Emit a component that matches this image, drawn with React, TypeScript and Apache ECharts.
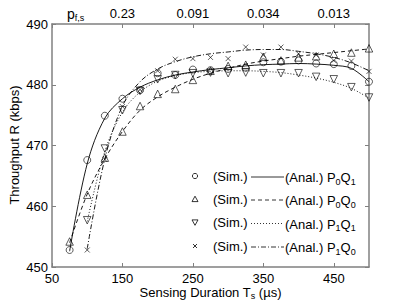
import React, { useEffect, useRef } from "react";
import * as echarts from "echarts";

// Sensing duration (µs)
const durations = [75, 100, 125, 150, 175, 200, 225, 250, 275, 300, 325, 350, 375, 400, 425, 450, 475, 500];
const durationsP1 = [100, 125, 150, 175, 200, 225, 250, 275, 300, 325, 350, 375, 400, 425, 450, 475, 500];

// Simulation points (kbps)
const simP0Q1 = [452.8, 467.6, 474.9, 477.7, 479.1, 481.9, 481.6, 482.5, 482.4, 482.6, 482.8, 483.7, 483.8, 484.0, 483.5, 483.4, 483.1, 480.5];
const simP0Q0 = [454.2, 461.9, 468.0, 472.3, 476.5, 478.5, 479.3, 480.8, 482.3, 483.1, 483.3, 484.6, 484.0, 484.5, 484.7, 485.1, 485.3, 486.0];
const simP1Q1 = [457.7, 469.5, 475.8, 479.0, 480.9, 481.6, 481.9, 482.0, 481.9, 482.0, 481.9, 481.9, 481.9, 481.3, 480.9, 479.6, 477.9];
const simP1Q0 = [452.8, 467.7, 476.4, 479.2, 482.3, 484.2, 484.3, 484.5, 484.3, 486.2, 484.9, 486.2, 485.1, 484.9, 484.0, 483.9, 482.2];

// Analytical curves (kbps)
const anaP0Q1 = [452.6, 467.0, 474.5, 477.7, 479.6, 480.8, 481.6, 482.1, 482.5, 482.8, 483.1, 483.3, 483.4, 483.5, 483.4, 483.2, 482.7, 480.5];
const anaP0Q0 = [454.0, 462.0, 467.8, 472.3, 475.8, 478.0, 479.6, 480.9, 481.9, 482.7, 483.4, 483.9, 484.3, 484.7, 485.0, 485.3, 485.6, 485.9];
const anaP1Q1 = [457.5, 469.0, 475.5, 478.8, 480.6, 481.5, 482.0, 482.2, 482.3, 482.3, 482.2, 482.0, 481.6, 481.1, 480.4, 479.4, 477.8];
const anaP1Q0 = [453.0, 467.8, 476.5, 480.5, 482.6, 483.8, 484.6, 485.1, 485.4, 485.7, 485.8, 485.8, 485.5, 485.1, 484.5, 483.6, 482.3];

// Top axis: false-alarm probability
const topTickValues = [150, 250, 350, 450];
const topTickLabels = ["0.23", "0.091", "0.034", "0.013"];

// Legend
const legendNames = ["P{sub|0}Q{sub|1}", "P{sub|0}Q{sub|0}", "P{sub|1}Q{sub|1}", "P{sub|1}Q{sub|0}"];

const FONT = "'Liberation Sans', Arial, Helvetica, sans-serif";
const AXIS_COLOR = "#808080";

const zip = (xs: number[], ys: number[]) => xs.map((x, i) => [x, ys[i]]);

export default function App() {
  const ref = useRef<HTMLDivElement>(null);

  useEffect(() => {
    if (!ref.current) return;
    const chart = echarts.init(ref.current, undefined, { renderer: "svg" });

    const markerStyle = { color: "transparent", borderColor: "#000", borderWidth: 0.8 };
    const lineBase = { color: "#000", width: 0.9 };

    const axisCommon = {
      axisLine: { show: true, lineStyle: { color: AXIS_COLOR, width: 1.5 } },
      axisTick: { show: true, inside: true, length: 4, lineStyle: { color: AXIS_COLOR, width: 1 } },
      splitLine: { show: false },
    };
    const labelCommon = { color: "#000", fontSize: 13, fontFamily: FONT };

    const subRich = {
      sub: { fontSize: 9, fontFamily: FONT, color: "#000", padding: [8, 0, 0, 0] },
    };

    const legendRowY = [176, 199, 222.5, 246];
    const legendGraphics: any[] = [];
    const dashTypes: any[] = [null, [4, 3], [1, 2], [5, 2, 1, 2]];
    legendRowY.forEach((y, i) => {
      const mx = 195;
      if (i === 0) {
        legendGraphics.push({ type: "circle", shape: { cx: mx, cy: y, r: 2.6 }, style: { fill: "none", stroke: "#000", lineWidth: 0.8 } });
      } else if (i === 1) {
        legendGraphics.push({ type: "polygon", shape: { points: [[mx - 3, y + 2.6], [mx + 3, y + 2.6], [mx, y - 2.8]] }, style: { fill: "none", stroke: "#000", lineWidth: 0.8 } });
      } else if (i === 2) {
        legendGraphics.push({ type: "polygon", shape: { points: [[mx - 3, y - 2.6], [mx + 3, y - 2.6], [mx, y + 2.8]] }, style: { fill: "none", stroke: "#000", lineWidth: 0.8 } });
      } else {
        legendGraphics.push({ type: "line", shape: { x1: mx - 2, y1: y - 2, x2: mx + 2, y2: y + 2 }, style: { stroke: "#000", lineWidth: 0.8 } });
        legendGraphics.push({ type: "line", shape: { x1: mx - 2, y1: y + 2, x2: mx + 2, y2: y - 2 }, style: { stroke: "#000", lineWidth: 0.8 } });
      }
      legendGraphics.push({
        type: "text", x: 213, y: y,
        style: { text: "(Sim.)", fontSize: 13, fontFamily: FONT, fill: "#000", align: "left", verticalAlign: "middle" },
      });
      legendGraphics.push({
        type: "line", shape: { x1: 251, y1: y + 1, x2: 284, y2: y + 1 },
        style: { stroke: "#000", lineWidth: 0.8, lineDash: dashTypes[i] || undefined },
      });
      legendGraphics.push({
        type: "text", x: 285, y: y + 1.5,
        style: {
          text: "(Anal.) " + legendNames[i], fontSize: 13, fontFamily: FONT, fill: "#000",
          align: "left", verticalAlign: "middle", rich: subRich,
        },
      });
    });

    chart.setOption({
      animation: false,
      backgroundColor: "#fff",
      grid: { left: 52, right: 38, top: 24, bottom: 39, containLabel: false },
      xAxis: [
        {
          type: "value", position: "bottom", min: 50, max: 500, interval: 100,
          ...axisCommon,
          axisLabel: { ...labelCommon, margin: 5, showMaxLabel: false },
        },
        {
          type: "value", position: "top", min: 50, max: 500, interval: 100,
          ...axisCommon,
          axisLabel: {
            ...labelCommon, margin: 4, showMaxLabel: false,
            formatter: (v: number) => {
              const idx = topTickValues.indexOf(v);
              return idx >= 0 ? topTickLabels[idx] : "";
            },
          },
        },
      ],
      yAxis: [
        {
          type: "value", position: "left", min: 450, max: 490, interval: 10,
          ...axisCommon,
          axisLabel: { ...labelCommon, margin: 4 },
        },
        {
          type: "value", position: "right", min: 450, max: 490, interval: 10,
          ...axisCommon,
          axisLabel: { show: false },
        },
      ],
      series: [
        { type: "line", data: zip(durations, anaP0Q1), showSymbol: false, symbol: "none", smooth: 0.35, lineStyle: { ...lineBase, type: "solid" }, z: 2 },
        { type: "line", data: zip(durations, anaP0Q0), showSymbol: false, symbol: "none", smooth: 0.35, lineStyle: { ...lineBase, type: [4, 3] }, z: 2 },
        { type: "line", data: zip(durationsP1, anaP1Q1), showSymbol: false, symbol: "none", smooth: 0.35, lineStyle: { ...lineBase, type: [1, 2] }, z: 2 },
        { type: "line", data: zip(durationsP1, anaP1Q0), showSymbol: false, symbol: "none", smooth: 0.35, lineStyle: { ...lineBase, type: [5, 2, 1, 2] }, z: 2 },
        { type: "scatter", data: zip(durations, simP0Q1), symbol: "circle", symbolSize: 7, itemStyle: markerStyle, z: 3 },
        { type: "scatter", data: zip(durations, simP0Q0), symbol: "triangle", symbolSize: 7.5, itemStyle: markerStyle, z: 3 },
        { type: "scatter", data: zip(durationsP1, simP1Q1), symbol: "triangle", symbolRotate: 180, symbolSize: 7.5, itemStyle: markerStyle, z: 3 },
        { type: "scatter", data: zip(durationsP1, simP1Q0), symbol: "path://M0,0L10,10M10,0L0,10", symbolSize: 5, itemStyle: markerStyle, z: 3 },
      ],
      graphic: [
        {
          type: "text", x: 67, y: 14,
          style: { text: "p{sub|f,s}", fontSize: 14, fontFamily: FONT, fill: "#000", align: "left", verticalAlign: "middle", rich: subRich },
        },
        {
          type: "text", x: 14, y: 145, rotation: Math.PI / 2,
          style: { text: "Throughput R (kbps)", fontSize: 13, fontFamily: FONT, fill: "#000", align: "center", verticalAlign: "middle" },
        },
        {
          type: "text", x: 210.5, y: 292,
          style: { text: "Sensing Duration T{sub|s} (µs)", fontSize: 13, fontFamily: FONT, fill: "#000", align: "center", verticalAlign: "middle", rich: subRich },
        },
        ...legendGraphics,
      ],
    });

    return () => chart.dispose();
  }, []);

  return <div ref={ref} style={{ position: "fixed", left: 0, top: 0, width: 407, height: 306 }} />;
}
